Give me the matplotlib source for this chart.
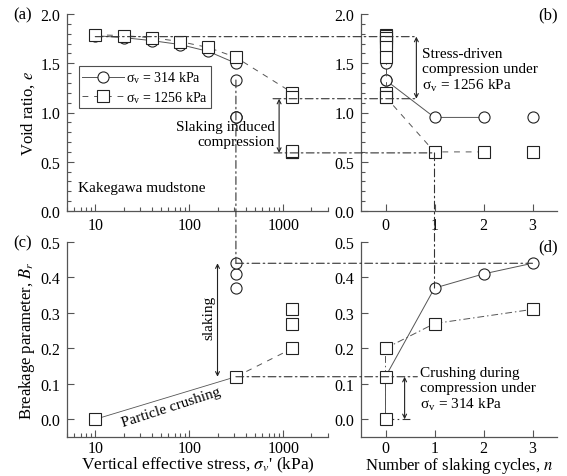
import matplotlib
matplotlib.use("Agg")
import matplotlib.pyplot as plt
from matplotlib.patches import ConnectionPatch
from matplotlib.ticker import MultipleLocator, LogLocator, FixedLocator, NullFormatter

plt.rcParams['font.family'] = ['Liberation Serif', 'DejaVu Serif']
plt.rcParams['mathtext.fontset'] = 'stix'
plt.rcParams['font.size'] = 11

# ---------------- data ----------------
# (a) void ratio vs vertical stress
stress_comp = [10, 20, 40, 80, 160, 314]
e_314_comp = [1.78, 1.76, 1.73, 1.69, 1.62, 1.50]
e_314_slak_x = [314, 314, 314, 314]
e_314_slak = [1.33, 0.95, 0.95, 0.955]
stress_1256 = [10, 20, 40, 80, 160, 314, 1256]
e_1256_comp = [1.79, 1.78, 1.76, 1.72, 1.66, 1.56, 1.20]
e_1256_extra_x = [1256, 1256, 1256, 1256]
e_1256_extra = [1.16, 0.60, 0.60, 0.61]

# (b) void ratio vs slaking cycles
n_cycles = [0, 1, 2, 3]
e_314_n0 = [1.78, 1.76, 1.73, 1.69, 1.62, 1.50, 1.33]
e_314_n = [1.33, 0.95, 0.95, 0.95]
e_1256_n0 = [1.79, 1.78, 1.76, 1.72, 1.66, 1.56, 1.20, 1.16]
e_1256_n = [1.16, 0.60, 0.60, 0.60]

# (c) breakage parameter vs stress
stress_br = [10, 314, 1256]
br_1256_comp = [0.0, 0.12, 0.20]
br_314_slak_x = [314, 314, 314]
br_314_slak = [0.37, 0.41, 0.44]
br_1256_slak_x = [1256, 1256]
br_1256_slak = [0.27, 0.31]

# (d) breakage parameter vs slaking cycles
br_314_n_x = [0, 0, 1, 2, 3]
br_314_n = [0.0, 0.12, 0.37, 0.41, 0.44]
br_1256_n_x = [0, 0, 0, 1, 3]
br_1256_n = [0.0, 0.12, 0.20, 0.27, 0.31]

# reference levels
e_top = 1.77
e_mid = 1.14
e_low = 0.59
br_top = 0.44
br_mid = 0.12

# ---------------- styling ----------------
LC = '#555555'
SP = '#555555'
DD = (0, (7, 3, 1.5, 3))
DASH = (0, (6, 6))
mk = dict(markersize=8, markerfacecolor='white', markeredgecolor='#222222', markeredgewidth=0.8)

fig = plt.figure(figsize=(5.67, 4.77), dpi=100)
W, H = 567.0, 477.0

def box(l, r, t, b):
    return [l / W, 1 - b / H, (r - l) / W, (b - t) / H]

axA = fig.add_axes(box(67, 328, 15, 212))
axB = fig.add_axes(box(361, 557, 15, 212))
axC = fig.add_axes(box(67, 328, 243, 438))
axD = fig.add_axes(box(361, 557, 243, 438))

for ax in (axA, axB, axC, axD):
    for s in ('top', 'right'):
        ax.spines[s].set_visible(False)
    for s in ('left', 'bottom'):
        ax.spines[s].set_color(SP)
        ax.spines[s].set_linewidth(0.9)
    ax.tick_params(which='both', direction='in', color=SP, width=0.8, labelsize=11.5)
    ax.tick_params(which='major', length=5, pad=5)
    ax.tick_params(which='minor', length=3)
for ax in (axA, axB):
    ax.tick_params(axis='x', pad=4)
for ax in (axC, axD):
    ax.tick_params(axis='x', pad=2.5)

# ---------- (a) ----------
ax = axA
ax.set_xscale('log')
ax.set_xlim(5, 3000)
ax.set_ylim(0, 2.0)
ax.xaxis.set_major_locator(FixedLocator([10, 100, 1000]))
ax.set_xticklabels(['10', '100', '1000'])
ax.xaxis.set_minor_locator(LogLocator(base=10, subs=range(2, 10)))
ax.xaxis.set_minor_formatter(NullFormatter())
ax.yaxis.set_major_locator(MultipleLocator(0.5))
ax.yaxis.set_minor_locator(MultipleLocator(0.1))
ax.yaxis.set_major_formatter(plt.FormatStrFormatter('%.1f'))
l1, = ax.plot(stress_comp, e_314_comp, '-', color=LC, lw=0.7, marker='o', **mk, zorder=3)
ax.plot(e_314_slak_x, e_314_slak, 'none', marker='o', **mk, zorder=3)
l2, = ax.plot(stress_1256, e_1256_comp, linestyle=DASH, color=LC, lw=0.7, marker='s', **mk, zorder=4)
ax.plot(e_1256_extra_x, e_1256_extra, 'none', marker='s', **mk, zorder=4)
ax.set_ylabel('Void ratio, $e$', fontsize=12, labelpad=2)
ax.text(0.042, 0.12, 'Kakegawa mudstone', transform=ax.transAxes, va='center', ha='left', fontsize=11)
ax.text(0.795, 0.39, 'Slaking induced\ncompression', transform=ax.transAxes, va='center', ha='right',
        multialignment='right', fontsize=11, linespacing=1.2, zorder=6)
ax.annotate('', xy=(905, e_low), xytext=(905, e_mid),
            arrowprops=dict(arrowstyle='<->', lw=0.8, color='#222222', shrinkA=0, shrinkB=0, mutation_scale=7))
leg = ax.legend([l1, l2], ['σ$_\\mathregular{v}$ = 314 kPa', 'σ$_\\mathregular{v}$ = 1256 kPa'],
                loc='upper left', bbox_to_anchor=(0.045, 0.735), fontsize=10, frameon=True,
                fancybox=False, edgecolor='#222222', handlelength=3.0, borderpad=0.25,
                labelspacing=0.25, handletextpad=0.15, borderaxespad=0)
leg.get_frame().set_linewidth(0.8)

# ---------- (b) ----------
ax = axB
ax.set_xlim(-0.5, 3.5)
ax.set_ylim(0, 2.0)
ax.xaxis.set_major_locator(FixedLocator([0, 1, 2, 3]))
ax.yaxis.set_major_locator(MultipleLocator(0.5))
ax.yaxis.set_minor_locator(MultipleLocator(0.1))
ax.yaxis.set_major_formatter(plt.FormatStrFormatter('%.1f'))
ax.plot([0] * len(e_314_n0), e_314_n0, '-', color=LC, lw=0.7, marker='o', **mk, zorder=3)
ax.plot(n_cycles[:3], e_314_n[:3], '-', color=LC, lw=0.7, marker='o', **mk, zorder=3)
ax.plot(n_cycles[3:], e_314_n[3:], 'none', marker='o', **mk, zorder=3)
ax.plot([0] * len(e_1256_n0), e_1256_n0, linestyle=DASH, color=LC, lw=0.7, marker='s', **mk, zorder=4)
ax.plot(n_cycles[:3], e_1256_n[:3], linestyle=DASH, color=LC, lw=0.7, marker='s', **mk, zorder=4)
ax.plot(n_cycles[3:], e_1256_n[3:], 'none', marker='s', **mk, zorder=4)
ax.annotate('', xy=(0.63, e_mid), xytext=(0.63, e_top),
            arrowprops=dict(arrowstyle='<->', lw=0.8, color='#222222', shrinkA=0, shrinkB=0, mutation_scale=7))
ax.text(0.31, 0.716, 'Stress-driven\ncompression under\nσ$_\\mathregular{v}$ = 1256 kPa',
        transform=ax.transAxes, va='center', ha='left', fontsize=11, linespacing=1.2)

# ---------- (c) ----------
ax = axC
ax.set_xscale('log')
ax.set_xlim(5, 3000)
ax.set_ylim(-0.05, 0.5)
ax.xaxis.set_major_locator(FixedLocator([10, 100, 1000]))
ax.set_xticklabels(['10', '100', '1000'])
ax.xaxis.set_minor_locator(LogLocator(base=10, subs=range(2, 10)))
ax.xaxis.set_minor_formatter(NullFormatter())
ax.yaxis.set_major_locator(MultipleLocator(0.1))
ax.yaxis.set_major_formatter(plt.FormatStrFormatter('%.1f'))
ax.plot(stress_br[:2], br_1256_comp[:2], '-', color=LC, lw=0.6, zorder=2)
ax.plot(stress_br[1:], br_1256_comp[1:], linestyle=DASH, color=LC, lw=0.7, zorder=2)
ax.plot(stress_br, br_1256_comp, 'none', marker='s', **mk, zorder=4)
ax.plot(br_314_slak_x, br_314_slak, 'none', marker='o', **mk, zorder=3)
ax.plot(br_1256_slak_x, br_1256_slak, 'none', marker='s', **mk, zorder=4)
ax.set_xlabel("Vertical effective stress, $\\sigma_v$' (kPa)", fontsize=12.5, labelpad=-1)
ax.set_ylabel('Breakage parameter, $B_r$', fontsize=12, labelpad=2)
ax.annotate('', xy=(200, br_mid), xytext=(200, br_top),
            arrowprops=dict(arrowstyle='<->', lw=0.8, color='#222222', shrinkA=0, shrinkB=0, mutation_scale=7))
ax.text(0.544, 0.615, 'slaking', transform=ax.transAxes, rotation=90, va='center', ha='center', fontsize=11)
ax.text(0.40, 0.155, 'Particle crushing', transform=ax.transAxes, rotation=18, va='center', ha='center',
        fontsize=11, rotation_mode='anchor')

# ---------- (d) ----------
ax = axD
ax.set_xlim(-0.5, 3.5)
ax.set_ylim(-0.05, 0.5)
ax.xaxis.set_major_locator(FixedLocator([0, 1, 2, 3]))
ax.yaxis.set_major_locator(MultipleLocator(0.1))
ax.yaxis.set_major_formatter(plt.FormatStrFormatter('%.1f'))
ax.plot(br_314_n_x, br_314_n, '-', color=LC, lw=0.7, zorder=2)
ax.plot(br_1256_n_x, br_1256_n, linestyle=DD, color=LC, lw=0.7, zorder=2)
ax.plot(br_314_n_x[2:], br_314_n[2:], 'none', marker='o', **mk, zorder=3)
ax.plot(br_1256_n_x, br_1256_n, 'none', marker='s', **mk, zorder=4)
ax.plot([0, 0.55], [0.0, 0.0], linestyle=DD, color='#333333', lw=0.8, zorder=1)
ax.annotate('', xy=(0.39, 0.0), xytext=(0.39, br_mid),
            arrowprops=dict(arrowstyle='<->', lw=0.8, color='#222222', shrinkA=0, shrinkB=0, mutation_scale=7))
ax.text(0.30, 0.246, 'Crushing during\ncompression under\nσ$_\\mathregular{v}$ = 314 kPa',
        transform=ax.transAxes, va='center', ha='left', fontsize=11, linespacing=1.2)
ax.set_xlabel('Number of slaking cycles, $n$', fontsize=12, labelpad=-1)

# ---------- cross-panel reference lines ----------
def link(axa, pa, axb, pb):
    cp = ConnectionPatch(xyA=pa, xyB=pb, coordsA='data', coordsB='data', axesA=axa, axesB=axb,
                         linestyle=DD, color='#333333', lw=0.8, zorder=1)
    fig.add_artist(cp)

link(axA, (10, e_top), axB, (0.63, e_top))
link(axA, (780, e_mid), axB, (0.63, e_mid))
link(axA, (800, e_low), axB, (1, e_low))
link(axA, (314, 1.33), axC, (314, br_top))
link(axB, (1, e_low), axD, (1, 0.37))
link(axC, (314, br_top), axD, (3, br_top))
link(axC, (314, br_mid), axD, (0.65, br_mid))

# panel labels
fig.text(13 / W, 1 - 15 / H, '(a)', va='center', ha='left', fontsize=12)
fig.text(558 / W, 1 - 15 / H, '(b)', va='center', ha='right', fontsize=12)
fig.text(13 / W, 1 - 243 / H, '(c)', va='center', ha='left', fontsize=12)
fig.text(558 / W, 1 - 247 / H, '(d)', va='center', ha='right', fontsize=12)

fig.savefig('out.png', dpi=100)
